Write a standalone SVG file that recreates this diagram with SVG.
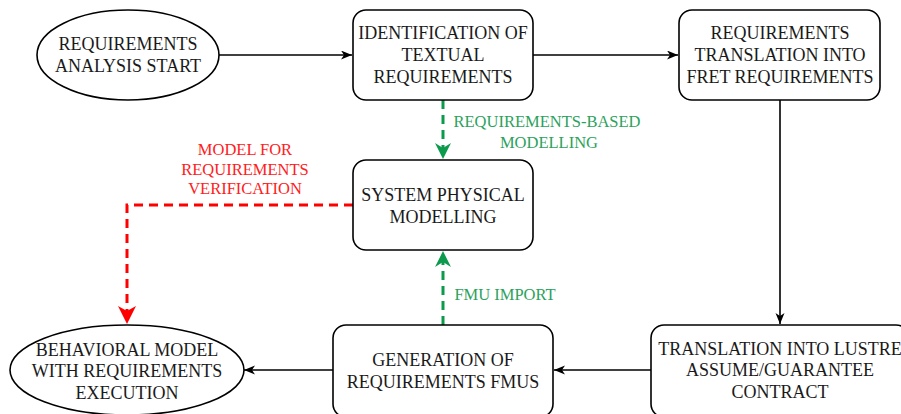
<svg xmlns="http://www.w3.org/2000/svg" width="901" height="414" viewBox="0 0 901 414">
<style>
.n{fill:#fff;stroke:#000;stroke-width:1.6}
.t{font-size:18px;fill:#1a1a1a;text-anchor:middle}
.l{font-size:16.5px;text-anchor:middle}
.k{fill:none;stroke:#000;stroke-width:1.6}
.g{fill:none;stroke:#0c9a4c;stroke-width:3;stroke-dasharray:9 6}
.r{fill:none;stroke:#ff0000;stroke-width:3;stroke-dasharray:9 6}
</style>
<defs>
<marker id="ab" markerUnits="userSpaceOnUse" markerWidth="12" markerHeight="10" refX="11" refY="4.5" orient="auto"><path d="M0,0 L11,4.5 L0,9 L3,4.5 z" fill="#000"/></marker>
<marker id="ag" markerUnits="userSpaceOnUse" markerWidth="17" markerHeight="17" refX="16" refY="8" orient="auto"><path d="M0,0 L16,8 L0,16 L5,8 z" fill="#0c9a4c"/></marker>
<marker id="ar" markerUnits="userSpaceOnUse" markerWidth="19" markerHeight="19" refX="18" refY="9" orient="auto"><path d="M0,0 L18,9 L0,18 L5,9 z" fill="#ff0000"/></marker>
</defs>
<g font-family="Liberation Serif, Times New Roman, serif">
<g id="connectors">
<path class="k" d="M219,55 H352" marker-end="url(#ab)"/>
<path class="k" d="M533,55 H678" marker-end="url(#ab)"/>
<path class="k" d="M780,100 V324" marker-end="url(#ab)"/>
<path class="k" d="M651,370 H554" marker-end="url(#ab)"/>
<path class="k" d="M333,370 H244" marker-end="url(#ab)"/>
<path class="g" d="M443,100 V159" marker-end="url(#ag)"/>
<path class="g" d="M443,325 V251" marker-end="url(#ag)"/>
<path class="r" d="M353,205 H127 V324" marker-end="url(#ar)"/>
<text class="l" fill="#2ba25c" x="547" y="127">REQUIREMENTS-BASED</text>
<text class="l" fill="#2ba25c" x="549" y="148">MODELLING</text>
<text class="l" fill="#2ba25c" x="505" y="300">FMU IMPORT</text>
<text class="l" fill="#ff2020" x="245" y="155">MODEL FOR</text>
<text class="l" fill="#ff2020" x="245" y="175">REQUIREMENTS</text>
<text class="l" fill="#ff2020" x="245" y="194">VERIFICATION</text>
</g>
<g id="start">
<ellipse class="n" cx="128" cy="55" rx="91" ry="45"/>
<text class="t" x="128" y="50">REQUIREMENTS</text>
<text class="t" x="128" y="72">ANALYSIS START</text>
</g>
<g id="identification">
<rect class="n" x="353" y="10" width="180" height="90" rx="13"/>
<text class="t" x="443" y="39">IDENTIFICATION OF</text>
<text class="t" x="443" y="61">TEXTUAL</text>
<text class="t" x="443" y="83">REQUIREMENTS</text>
</g>
<g id="fret">
<rect class="n" x="679" y="10" width="201" height="90" rx="13"/>
<text class="t" x="780" y="39">REQUIREMENTS</text>
<text class="t" x="780" y="61">TRANSLATION INTO</text>
<text class="t" x="780" y="83">FRET REQUIREMENTS</text>
</g>
<g id="physical">
<rect class="n" x="353" y="160" width="180" height="90" rx="13"/>
<text class="t" x="443" y="201">SYSTEM PHYSICAL</text>
<text class="t" x="443" y="223">MODELLING</text>
</g>
<g id="behavioral">
<ellipse class="n" cx="127" cy="370" rx="117" ry="45"/>
<text class="t" x="127" y="356">BEHAVIORAL MODEL</text>
<text class="t" x="127" y="377">WITH REQUIREMENTS</text>
<text class="t" x="127" y="399">EXECUTION</text>
</g>
<g id="generation">
<rect class="n" x="333" y="325" width="220" height="92" rx="13"/>
<text class="t" x="443" y="366">GENERATION OF</text>
<text class="t" x="443" y="388">REQUIREMENTS FMUS</text>
</g>
<g id="lustre">
<rect class="n" x="651" y="325" width="258" height="92" rx="13"/>
<text class="t" x="780" y="355">TRANSLATION INTO LUSTRE</text>
<text class="t" x="780" y="376">ASSUME/GUARANTEE</text>
<text class="t" x="780" y="398">CONTRACT</text>
</g>
</g>
</svg>
